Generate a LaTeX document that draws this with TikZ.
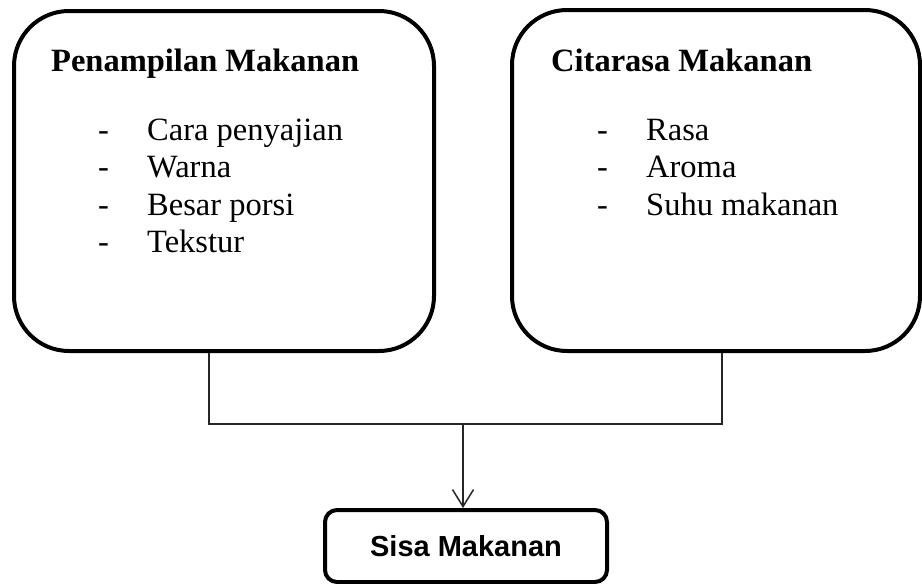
\documentclass[tikz,border=0pt]{standalone}
\usepackage{fontspec}
\setmainfont{Liberation Serif}
\newfontfamily\arialfont{Liberation Sans}
\usetikzlibrary{arrows.meta}
\tikzset{
  bigbox/.style={draw, line width=4pt, rounded corners=55pt, inner sep=0pt},
  smallbox/.style={draw, line width=4pt, rounded corners=12pt, inner sep=0pt},
  ttl/.style={anchor=base west, inner sep=0pt, font=\fontsize{32.5}{39}\selectfont\bfseries},
  itm/.style={anchor=base west, inner sep=0pt, font=\fontsize{32.5}{39}\selectfont},
  conn/.style={line width=1.5pt, draw=black!85},
}
\begin{document}
\begin{tikzpicture}[x=1pt,y=-1pt]
\useasboundingbox (0,0) rectangle (922,584);
% boxes
\node[bigbox, minimum width=420pt, minimum height=340pt] (L) at (224,181) {};
\node[bigbox, minimum width=408pt, minimum height=341pt] (R) at (716,180.5) {};
\node[smallbox, minimum width=282pt, minimum height=72pt,
      font=\arialfont\fontsize{29}{35}\selectfont\bfseries] (S) at (466,546) {Sisa Makanan};
% left texts
\node[ttl] (lt) at (51,71) {Penampilan Makanan};
\node[itm] (ld1) at (98,140) {-};
\node[itm] (li1) at (147,140) {Cara penyajian};
\node[itm] (ld2) at (98,177.5) {-};
\node[itm] (li2) at (147,177.5) {Warna};
\node[itm] (ld3) at (98,215) {-};
\node[itm] (li3) at (147,215) {Besar porsi};
\node[itm] (ld4) at (98,252.5) {-};
\node[itm] (li4) at (147,252.5) {Tekstur};
% right texts
\node[ttl] (rt) at (551,71) {Citarasa Makanan};
\node[itm] (rd1) at (597,140) {-};
\node[itm] (ri1) at (646,140) {Rasa};
\node[itm] (rd2) at (597,177.5) {-};
\node[itm] (ri2) at (646,177.5) {Aroma};
\node[itm] (rd3) at (597,215) {-};
\node[itm] (ri3) at (646,215) {Suhu makanan};
% connectors
\coordinate (lj) at (209,424);
\coordinate (rj) at (722,424);
\coordinate (mj) at (463,424);
\draw[conn] (L.south -| lj) -- (lj) -- (rj) -- (R.south -| rj);
\draw[conn, -{Straight Barb[length=17pt,width=21pt,line width=1.5pt]}] (mj) -- (S.north -| mj);
\end{tikzpicture}
\end{document}
